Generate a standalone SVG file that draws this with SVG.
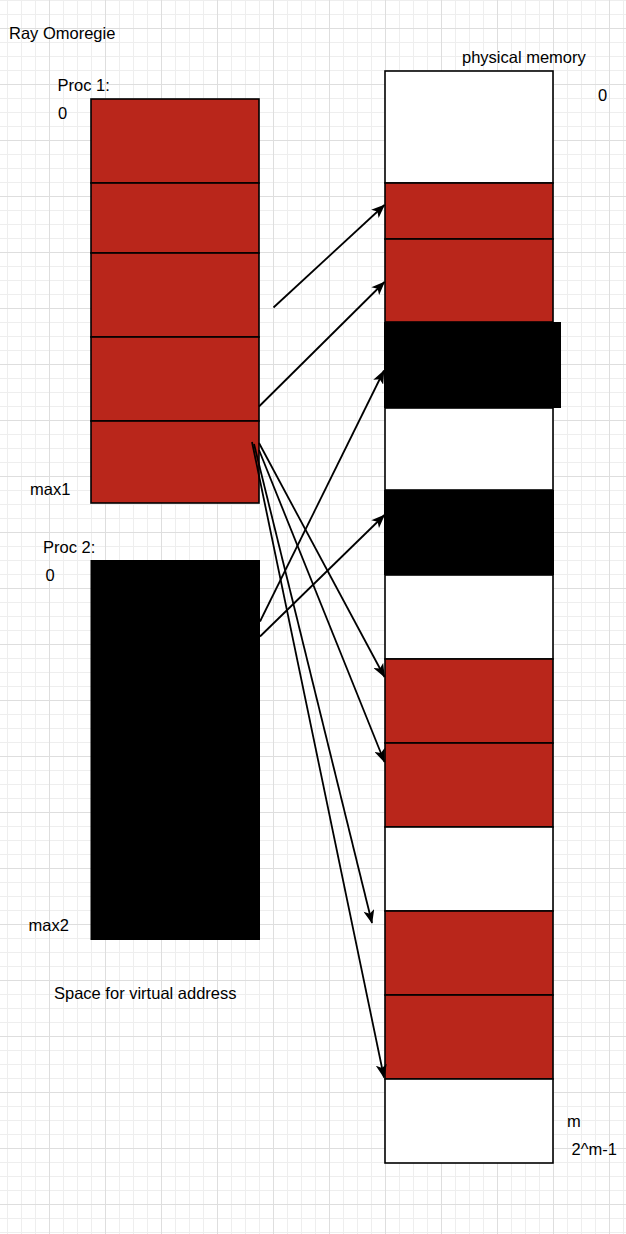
<svg xmlns="http://www.w3.org/2000/svg" width="626" height="1234" viewBox="0 0 626 1234">
<style>
.t{font-family:"Liberation Sans",Arial,Helvetica,sans-serif;font-size:16.5px;fill:#000}
.red{fill:#b9261b;stroke:#000;stroke-width:1.6}
.wht{fill:#fff;stroke:#000;stroke-width:1.6}
.blk{fill:#000;stroke:none}
.edge{fill:none;stroke:#000;stroke-width:1.8;marker-end:url(#arr)}
</style>
<defs>
<pattern id="grid" patternUnits="userSpaceOnUse" x="49" y="28" width="56" height="56">
<path d="M14.5 0V56M28.5 0V56M42.5 0V56M0 14.5H56M0 28.5H56M0 42.5H56" stroke="#eeeeee" stroke-width="1" fill="none"/>
<path d="M0.5 0V56M0 0.5H56" stroke="#dedede" stroke-width="1" fill="none"/>
</pattern>
<marker id="arr" viewBox="0 0 10 8" refX="9.5" refY="4" markerWidth="14" markerHeight="11" markerUnits="userSpaceOnUse" orient="auto">
<path d="M0,0 L10,4 L0,8 L2.5,4 Z" fill="#000"/>
</marker>
</defs>
<rect width="626" height="1234" fill="#fff"/>
<rect width="626" height="1234" fill="url(#grid)"/>

<g id="labels">
<text class="t" x="9" y="39">Ray Omoregie</text>
<text class="t" x="57.5" y="91">Proc 1:</text>
<text class="t" x="58" y="119">0</text>
<text class="t" x="30" y="495">max1</text>
<text class="t" x="43" y="553">Proc 2:</text>
<text class="t" x="45.5" y="581">0</text>
<text class="t" x="28.5" y="931">max2</text>
<text class="t" x="54" y="999">Space for virtual address</text>
<text class="t" x="462" y="63">physical memory</text>
<text class="t" x="598" y="101">0</text>
<text class="t" x="567" y="1127">m</text>
<text class="t" x="571.5" y="1155">2^m-1</text>
</g>

<g id="proc1">
<rect class="red" x="91" y="99" width="168" height="84"/>
<rect class="red" x="91" y="183" width="168" height="70"/>
<rect class="red" x="91" y="253" width="168" height="84"/>
<rect class="red" x="91" y="337" width="168" height="84"/>
<rect class="red" x="91" y="421" width="168" height="82"/>
</g>

<g id="proc2">
<rect class="blk" x="90.5" y="560" width="169.5" height="380"/>
</g>

<g id="physical">
<rect class="wht" x="385" y="71" width="168" height="112"/>
<rect class="red" x="385" y="183" width="168" height="56"/>
<rect class="red" x="385" y="239" width="168" height="83"/>
<rect class="blk" x="384" y="322" width="177" height="86"/>
<rect class="wht" x="385" y="408" width="168" height="82"/>
<rect class="blk" x="384" y="490" width="170" height="85"/>
<rect class="wht" x="385" y="575" width="168" height="84"/>
<rect class="red" x="385" y="659" width="168" height="84"/>
<rect class="red" x="385" y="743" width="168" height="84"/>
<rect class="wht" x="385" y="827" width="168" height="84"/>
<rect class="red" x="385" y="911" width="168" height="84"/>
<rect class="red" x="385" y="995" width="168" height="84"/>
<rect class="wht" x="385" y="1079" width="168" height="84"/>
</g>

<g id="connectors">
<line class="edge" x1="273.5" y1="307.5" x2="384.5" y2="205"/>
<line class="edge" x1="259" y1="406.5" x2="384.5" y2="282"/>
<line class="edge" x1="260" y1="621.5" x2="384" y2="370.5"/>
<line class="edge" x1="260" y1="636.5" x2="384.5" y2="515"/>
<line class="edge" x1="259" y1="443" x2="384.5" y2="677"/>
<line class="edge" x1="259" y1="450" x2="384.5" y2="762"/>
<line class="edge" x1="254" y1="444" x2="372" y2="923"/>
<line class="edge" x1="252" y1="442" x2="384" y2="1077.5"/>
</g>
</svg>
